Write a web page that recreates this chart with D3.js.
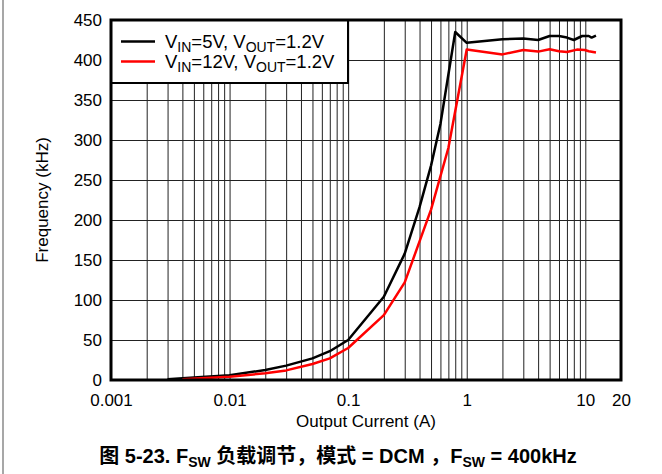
<!DOCTYPE html>
<html>
<head>
<meta charset="utf-8">
<script src="https://cdn.jsdelivr.net/npm/d3@7"></script>
<style>
  body { margin: 0; background: #fff; }
  svg { display: block; font-family: "Liberation Sans", Arial, "Noto Sans CJK SC", sans-serif; }
</style>
</head>
<body>
<div id="chart"></div>
<script>
// Output current (A) vs switching frequency (kHz)
var current5 = [0.003, 0.005, 0.01, 0.02, 0.03, 0.05, 0.07, 0.1, 0.2, 0.3, 0.4, 0.5, 0.6, 0.8, 1, 2, 3, 4, 5, 6, 7, 8, 9.4, 10.7, 11.3, 12.3];
var freq5    = [1, 3, 6, 12.5, 18, 27, 36, 50, 104, 158, 216, 268, 320, 435, 421.5, 426, 427, 425, 430, 430, 428, 425, 430, 430, 428, 430.5];

var current12 = [0.004, 0.01, 0.02, 0.03, 0.05, 0.07, 0.1, 0.2, 0.3, 0.5, 0.7, 1, 2, 3, 4, 5, 6, 7, 8.5, 9.9, 10.7, 12.3];
var freq12    = [1, 4, 8.5, 12, 20, 27, 40, 81, 122, 213, 290, 413, 407, 412.5, 410.5, 413.5, 411, 410, 413, 412.5, 411, 409.5];

var xTicks = [0.001, 0.01, 0.1, 1, 10, 20];
var xTickLabels = ["0.001", "0.01", "0.1", "1", "10", "20"];
var yTicks = [0, 50, 100, 150, 200, 250, 300, 350, 400, 450];

var seriesNames = ["5V", "12V"];
var seriesColors = ["#000000", "#ff0000"];

var W = 662, H = 474;
var pL = 111, pR = 621, pT = 20, pB = 380;

var svg = d3.select('#chart').append('svg')
    .attr('width', W)
    .attr('height', H);

// page edge line on the left
svg.append('line')
    .attr('x1', 3).attr('x2', 3)
    .attr('y1', 0).attr('y2', H)
    .attr('stroke', '#8a8a8a')
    .attr('stroke-width', 1.5);

var x = d3.scaleLog().domain([0.001, 20]).range([pL, pR]);
var y = d3.scaleLinear().domain([0, 450]).range([pB, pT]);

// log grid: 1..9 of every decade up to 10
var gridVals = [];
[0.001, 0.01, 0.1, 1].forEach(function(d){
    for (var k = 1; k <= 9; k++) gridVals.push(d * k);
});
gridVals.push(10);

svg.append('g')
    .attr('class', 'xgrid')
    .attr('transform', 'translate(0,' + pB + ')')
    .call(d3.axisBottom(x).tickValues(gridVals).tickSize(-(pB - pT)).tickFormat(''))
    .call(function(g){ g.select('.domain').remove(); })
    .selectAll('line')
    .attr('stroke', '#222')
    .attr('stroke-width', 1);

svg.append('g')
    .attr('class', 'ygrid')
    .attr('transform', 'translate(' + pL + ',0)')
    .call(d3.axisLeft(y).tickValues(yTicks).tickSize(-(pR - pL)).tickFormat(''))
    .call(function(g){ g.select('.domain').remove(); })
    .selectAll('line')
    .attr('stroke', '#222')
    .attr('stroke-width', 1);

// tick labels
var xAxis = svg.append('g')
    .attr('transform', 'translate(0,' + pB + ')')
    .call(d3.axisBottom(x).tickValues(xTicks).tickSize(0).tickPadding(14)
        .tickFormat(function(d, i){ return xTickLabels[i]; }));
xAxis.select('.domain').remove();
xAxis.selectAll('text')
    .attr('fill', '#000')
    .style('font-size', '17px')
    .style('font-family', '"Liberation Sans", Arial, sans-serif');

var yAxis = svg.append('g')
    .attr('transform', 'translate(' + pL + ',0)')
    .call(d3.axisLeft(y).tickValues(yTicks).tickSize(0).tickPadding(9));
yAxis.select('.domain').remove();
yAxis.selectAll('text')
    .attr('fill', '#000')
    .style('font-size', '17px')
    .style('font-family', '"Liberation Sans", Arial, sans-serif');

// data lines
var line = d3.line()
    .x(function(d){ return x(d[0]); })
    .y(function(d){ return y(d[1]); });

var series = [d3.zip(current5, freq5), d3.zip(current12, freq12)];

svg.selectAll('path.series')
    .data(series)
    .enter()
    .append('path')
    .attr('class', 'series')
    .attr('d', line)
    .attr('fill', 'none')
    .attr('stroke', function(d, i){ return seriesColors[i]; })
    .attr('stroke-width', 2.5)
    .attr('stroke-linejoin', 'round');

// legend
var legend = svg.append('g');
legend.append('rect')
    .attr('x', pL).attr('y', pT)
    .attr('width', 237).attr('height', 63)
    .attr('fill', '#fff')
    .attr('stroke', '#000')
    .attr('stroke-width', 2);

var legendItems = legend.selectAll('.legend')
    .data(seriesNames)
    .enter()
    .append('g')
    .attr('class', 'legend')
    .attr('transform', function(d, i){ return 'translate(0,' + (41.5 + i * 20) + ')'; });

legendItems.append('line')
    .attr('x1', 121).attr('x2', 155)
    .attr('stroke', function(d, i){ return seriesColors[i]; })
    .attr('stroke-width', 2.5);

var lt = legendItems.append('text')
    .attr('x', 165)
    .attr('y', 6.5)
    .style('font-size', '18.5px')
    .attr('fill', '#000');
lt.append('tspan').text('V');
lt.append('tspan').text('IN').style('font-size', '14px').attr('dy', 4);
lt.append('tspan').text(function(d){ return '=' + d + ', V'; }).attr('dy', -4);
lt.append('tspan').text('OUT').style('font-size', '14px').attr('dy', 4);
lt.append('tspan').text('=1.2V').attr('dy', -4);

// plot frame
svg.append('rect')
    .attr('x', pL).attr('y', pT)
    .attr('width', pR - pL).attr('height', pB - pT)
    .attr('fill', 'none')
    .attr('stroke', '#000')
    .attr('stroke-width', 3);

// axis titles
svg.append('text')
    .attr('x', 366).attr('y', 427)
    .attr('text-anchor', 'middle')
    .style('font-size', '17px')
    .text('Output Current (A)');

svg.append('text')
    .attr('transform', 'translate(48,' + (pT + pB) / 2 + ') rotate(-90)')
    .attr('text-anchor', 'middle')
    .style('font-size', '17px')
    .text('Frequency (kHz)');

// caption
var cap = svg.append('text')
    .attr('x', 338).attr('y', 463)
    .attr('text-anchor', 'middle')
    .style('font-size', '20px')
    .style('font-weight', 'bold');
cap.append('tspan').text('图 5-23. F');
cap.append('tspan').text('SW').style('font-size', '14px').attr('dy', 4);
cap.append('tspan').text(' 负载调节，模式 = DCM ，F').attr('dy', -4);
cap.append('tspan').text('SW').style('font-size', '14px').attr('dy', 4);
cap.append('tspan').text(' = 400kHz').attr('dy', -4);
</script>
</body>
</html>
